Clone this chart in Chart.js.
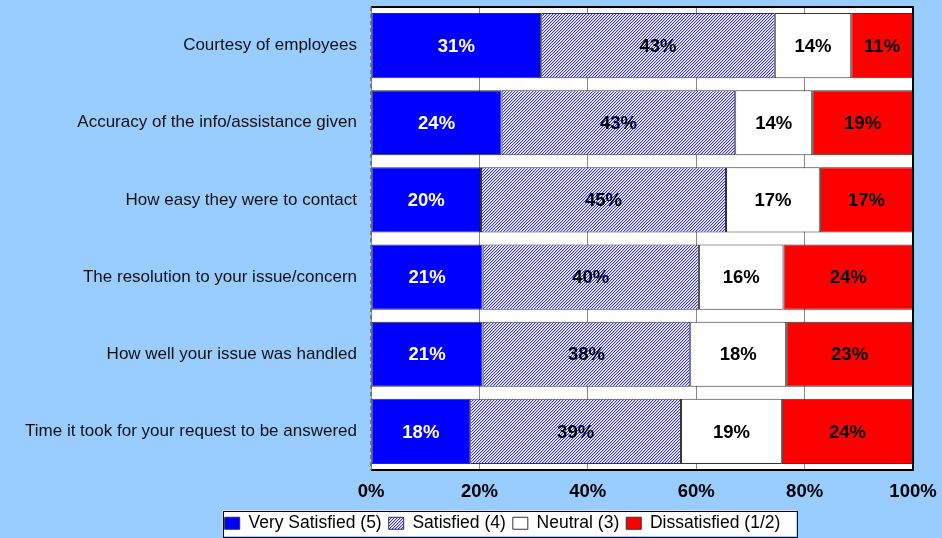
<!DOCTYPE html>
<html>
<head>
<meta charset="utf-8">
<script src="https://cdn.jsdelivr.net/npm/chart.js"></script>
<style>
  html, body { margin: 0; padding: 0; background: #99ccff; }
  #box { width: 942px; height: 538px; }
</style>
</head>
<body>
<div id="box"><canvas id="chartSatisfacao"></canvas></div>
<script>
const categorias = [
    'Courtesy of employees',
    'Accuracy of the info/assistance given',
    'How easy they were to contact',
    'The resolution to your issue/concern',
    'How well your issue was handled',
    'Time it took for your request to be answered'
];
const muitoSatisfeito = [31.4, 24.1, 20.3, 20.6, 20.6, 18.3];
const satisfeito      = [43.1, 43.1, 45.2, 39.9, 38.3, 38.9];
const neutro          = [14.1, 14.2, 17.3, 15.6, 17.7, 18.6];
const insatisfeito    = [11.4, 18.6, 17.2, 23.9, 23.4, 24.2];
const nomesSeries = ['Very Satisfied (5)', 'Satisfied (4)', 'Neutral (3)', 'Dissatisfied (1/2)'];
const ticksX = [0, 20, 40, 60, 80, 100];

const FONTE = '"Liberation Sans", Arial, sans-serif';

// hachura diagonal do "Satisfied" (pixel a pixel, periodo 3)
function criarHachura() {
    const c = document.createElement('canvas');
    c.width = 3; c.height = 3;
    const g = c.getContext('2d');
    g.fillStyle = '#ffffff';
    g.fillRect(0, 0, 3, 3);
    for (let y = 0; y < 3; y++) {
        g.fillStyle = '#3030ff';
        g.fillRect((2 - y + 3) % 3, y, 1, 1);
        g.fillStyle = '#c4c4ff';
        g.fillRect((3 - y + 3) % 3, y, 1, 1);
    }
    return g.createPattern(c, 'repeat');
}

const moldura = {
    id: 'moldura',
    beforeDraw(chart) {
        const { ctx, chartArea: a } = chart;
        ctx.save();
        ctx.fillStyle = '#ffffff';
        ctx.fillRect(a.left, a.top, a.right - a.left, a.bottom - a.top);
        // caixa da legenda
        const hb = chart.legend.legendHitBoxes;
        if (hb && hb.length) {
            const l = Math.min(...hb.map(h => h.left)) - 2;
            const r = Math.max(...hb.map(h => h.left + h.width)) + 16;
            const t = hb[0].top - 4;
            const h = hb[0].height + 8;
            ctx.fillRect(l, t, r - l, h);
            ctx.strokeStyle = '#000';
            ctx.lineWidth = 1;
            ctx.strokeRect(Math.round(l) + 0.5, Math.round(t) + 0.5, Math.round(r - l), Math.round(h));
        }
        ctx.restore();
    },
    afterDatasetsDraw(chart) {
        const { ctx, chartArea: a } = chart;
        ctx.save();
        // rotulos das barras
        ctx.font = 'bold 18.5px ' + FONTE;
        ctx.textAlign = 'center';
        ctx.textBaseline = 'middle';
        chart.data.datasets.forEach((ds, i) => {
            chart.getDatasetMeta(i).data.forEach((bar, j) => {
                ctx.fillStyle = i === 0 ? '#ffffff' : '#000000';
                ctx.fillText(Math.round(ds.data[j]) + '%', (bar.x + bar.base) / 2, bar.y + 1);
            });
        });
        // bordas
        ctx.strokeStyle = '#000';
        ctx.lineWidth = 2;
        ctx.beginPath();
        ctx.moveTo(a.left, a.top);
        ctx.lineTo(a.right, a.top);
        ctx.lineTo(a.right, a.bottom);
        ctx.lineTo(a.left, a.bottom);
        ctx.stroke();
        ctx.strokeStyle = '#666';
        ctx.lineWidth = 1.5;
        ctx.setLineDash([4, 3]);
        ctx.beginPath();
        ctx.moveTo(a.left, a.top);
        ctx.lineTo(a.left, a.bottom);
        ctx.stroke();
        ctx.restore();
    },
    afterLayout(chart) {
        // posiciona a legenda como no original
        const lg = chart.legend;
        lg.left = 63;
        lg.right = 942;
        lg.top += 4;
        lg.bottom += 4;
    }
};

const ctx = document.getElementById('chartSatisfacao').getContext('2d');
const hachura = criarHachura();
const cores = ['#0000ff', hachura, '#ffffff', '#ff0000'];
const series = [muitoSatisfeito, satisfeito, neutro, insatisfeito];

new Chart(ctx, {
    type: 'bar',
    data: {
        labels: categorias,
        datasets: series.map((valores, i) => ({
            label: nomesSeries[i],
            data: valores,
            backgroundColor: cores[i],
            borderColor: '#333333',
            borderWidth: 1,
            borderSkipped: false,
            barPercentage: 0.845,
            categoryPercentage: 1
        }))
    },
    options: {
        indexAxis: 'y',
        responsive: true,
        maintainAspectRatio: false,
        animation: false,
        layout: { padding: { left: 0, top: 7, right: 29, bottom: 0 } },
        scales: {
            x: {
                stacked: true,
                min: 0,
                max: 100,
                afterBuildTicks: s => { s.ticks = ticksX.map(v => ({ value: v })); },
                afterFit: s => {
                    s.height = 33.5;
                    s.paddingLeft = 0; s.paddingRight = 0;
                },
                grid: { color: '#888888', drawTicks: false },
                border: { display: false },
                ticks: {
                    padding: 11,
                    color: '#000',
                    font: { family: FONTE, size: 18.5, weight: 'bold' },
                    callback: v => v + '%'
                }
            },
            y: {
                stacked: true,
                afterFit: s => {
                    s.width = 371;
                    s.paddingTop = 0; s.paddingBottom = 0;
                },
                grid: { display: false, drawTicks: false },
                border: { display: false },
                ticks: {
                    padding: 14,
                    color: '#111',
                    font: { family: FONTE, size: 17 }
                }
            }
        },
        plugins: {
            tooltip: { enabled: false },
            legend: {
                position: 'bottom',
                labels: {
                    boxWidth: 15,
                    boxHeight: 12,
                    padding: 7,
                    color: '#000',
                    font: { family: FONTE, size: 17.5 }
                }
            }
        }
    },
    plugins: [moldura]
});
</script>
</body>
</html>
